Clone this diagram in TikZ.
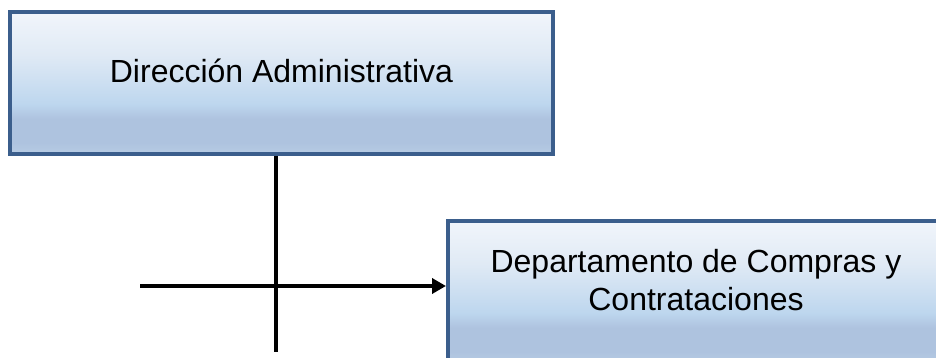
\documentclass[tikz,border=0pt]{standalone}
\usepackage{fontspec}
\setmainfont{Liberation Sans}
\usetikzlibrary{arrows.meta}
\definecolor{boxborder}{HTML}{3B5E8C}
\definecolor{sA}{HTML}{F1F5FB}
\definecolor{sB}{HTML}{E0EAF5}
\definecolor{sC}{HTML}{BDD6EE}
\definecolor{sD}{HTML}{AEC3DF}
\definecolor{sE}{HTML}{B7CCE4}
\pgfdeclareverticalshading{boxshade}{100bp}{color(0bp)=(sE); color(25bp)=(sE); color(29bp)=(sD); color(37.5bp)=(sD); color(42.5bp)=(sC); color(60bp)=(sB); color(75bp)=(sA); color(100bp)=(sA)}
\newcommand{\ctrline}[1]{\hbox to 0pt{\hss #1\hss}}
\begin{document}
\begin{tikzpicture}[x=1pt,y=-1pt,
  orgbox/.style={draw=boxborder, line width=4pt, shading=boxshade, rectangle,
    minimum height=142pt, inner sep=0pt,
    font=\fontsize{32}{38}\selectfont},
  link/.style={line width=4pt, black}]
\useasboundingbox (0,0) rectangle (936,358);
\clip (0,0) rectangle (936,358);
\node[orgbox, minimum width=543pt, text height=20pt, text depth=20pt] (dir) at (281.5,83) {Dirección Administrativa};
\node[orgbox, minimum width=496pt, text height=56pt, text depth=20pt] (dept) at (696,292)
  {\vbox{\baselineskip=38pt \ctrline{Departamento de Compras y}\ctrline{Contrataciones}}};
\coordinate (vend) at (276,352);
\coordinate (hstart) at (140,286);
\draw[link] (vend |- dir.south) -- (vend);
\draw[link, -{Triangle[length=14pt,width=15pt]}] (hstart) -- (hstart -| dept.west);
\end{tikzpicture}
\end{document}
